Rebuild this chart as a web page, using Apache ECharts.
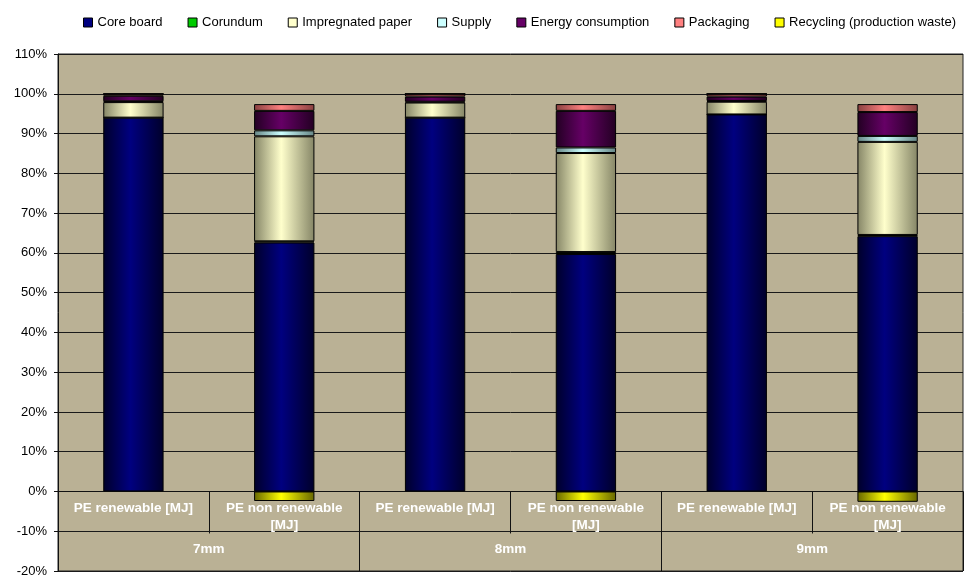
<!DOCTYPE html>
<html>
<head>
<meta charset="utf-8">
<script src="https://cdn.jsdelivr.net/npm/echarts@6/dist/echarts.min.js"></script>
<style>
  html, body { margin: 0; padding: 0; background: #fff; }
  #chart { width: 970px; height: 577px; }
</style>
</head>
<body>
<div id="chart"></div>
<script>
// categories
const barLabels = ['PE renewable [MJ]', 'PE non renewable [MJ]', 'PE renewable [MJ]', 'PE non renewable [MJ]', 'PE renewable [MJ]', 'PE non renewable [MJ]']
const groupLabels = ['7mm', '8mm', '9mm']

// series values (% of total)
const coreBoard = [94.0, 62.6, 94.0, 59.7, 94.8, 64.2]
const corundum = [0, 0.3, 0, 0.5, 0, 0.3]
const impregnatedPaper = [3.9, 26.4, 3.8, 24.9, 3.2, 23.4]
const supply = [0.2, 1.5, 0.2, 1.4, 0.2, 1.5]
const energyConsumption = [1.4, 4.9, 1.3, 9.2, 1.1, 6.0]
const packaging = [0.5, 1.7, 0.7, 1.7, 0.7, 2.0]
const recycling = [0, -2.4, 0, -2.4, 0, -2.6]

const chart = echarts.init(document.getElementById('chart'))

// cylinder-like shading: dark edges, bright middle
const cyl = (edge, mid) => new echarts.graphic.LinearGradient(0, 0, 1, 0, [
  { offset: 0, color: edge },
  { offset: 0.45, color: mid },
  { offset: 1, color: edge }
])

const seriesDefs = [
  { name: 'Core board', data: coreBoard, color: '#000080', edge: '#00002a' },
  { name: 'Corundum', data: corundum, color: '#00cc00', edge: '#004400' },
  { name: 'Impregnated paper', data: impregnatedPaper, color: '#ffffcc', edge: '#858566' },
  { name: 'Supply', data: supply, color: '#ccffff', edge: '#668585' },
  { name: 'Energy consumption', data: energyConsumption, color: '#660066', edge: '#220022' },
  { name: 'Packaging', data: packaging, color: '#ff8080', edge: '#884040' },
  { name: 'Recycling (production waste)', data: recycling, color: '#ffff00', edge: '#666600' }
]

const font = 'Liberation Sans, Arial, sans-serif'
const whiteBold = { color: '#fff', fontSize: 13.5, fontWeight: 'bold', fontFamily: font }

const option = {
  animation: false,
  backgroundColor: '#fff',
  textStyle: { fontFamily: font },
  legend: {
    left: 78,
    top: 11,
    width: 900,
    itemWidth: 9,
    itemHeight: 9,
    itemGap: 25,
    icon: 'rect',
    textStyle: { color: '#000', fontSize: 13, fontFamily: font },
    data: seriesDefs.map(s => ({
      name: s.name,
      itemStyle: { color: s.color, borderColor: '#000', borderWidth: 1 }
    }))
  },
  grid: {
    left: 58,
    right: 7,
    top: 54,
    bottom: 6,
    outerBoundsMode: 'none',
    containLabel: false,
    show: true,
    backgroundColor: '#bab195',
    borderColor: '#222',
    borderWidth: 1
  },
  xAxis: [
    // category axis on the 0% line: carries the bars and the short separators
    {
      type: 'category',
      position: 'bottom',
      data: barLabels,
      axisLine: { onZero: true, lineStyle: { color: '#111', width: 1 } },
      axisTick: { show: true, interval: 0, length: 42, lineStyle: { color: '#111' } },
      axisLabel: { show: false }
    },
    // group level (7mm / 8mm / 9mm)
    {
      type: 'category',
      position: 'bottom',
      data: groupLabels,
      axisLine: { show: false, onZero: false },
      axisTick: { show: true, inside: true, interval: 0, length: 79, lineStyle: { color: '#111' } },
      axisLabel: Object.assign({ inside: true, interval: 0, margin: 15 }, whiteBold)
    },
    // bar level labels
    {
      type: 'category',
      position: 'bottom',
      data: barLabels,
      axisLine: { show: false, onZero: false },
      axisTick: { show: false },
      axisLabel: Object.assign({
        inside: true,
        interval: 0,
        margin: 71,
        verticalAlign: 'top',
        lineHeight: 17,
        formatter: v => v.includes('non') ? v.replace(' [MJ]', '\n[MJ]') : v
      }, whiteBold)
    }
  ],
  yAxis: {
    type: 'value',
    min: -20,
    max: 110,
    interval: 10,
    axisLine: { show: true, lineStyle: { color: '#111' } },
    axisTick: { show: true, length: 4, lineStyle: { color: '#111' } },
    axisLabel: { formatter: '{value}%', color: '#000', fontSize: 13, fontFamily: font, margin: 11 },
    splitLine: { show: true, lineStyle: { color: '#1a1a1a', width: 1 } }
  },
  series: seriesDefs.map(s => ({
    name: s.name,
    type: 'bar',
    stack: 'total',
    xAxisIndex: 0,
    barWidth: '40%',
    data: s.data,
    itemStyle: {
      color: cyl(s.edge, s.color),
      borderColor: '#000',
      borderWidth: 1
    }
  }))
}

chart.setOption(option)
</script>
</body>
</html>
